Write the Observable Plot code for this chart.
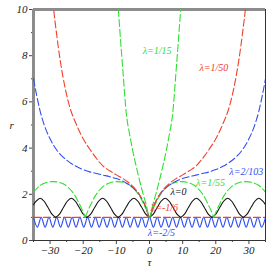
<!DOCTYPE html>
<html><head><meta charset="utf-8">
<script src="https://cdn.jsdelivr.net/npm/d3@7"></script>
<script src="https://cdn.jsdelivr.net/npm/@observablehq/plot@0.6"></script>
<style>body{margin:0;background:#fff;} svg{display:block} svg text{font-family:"Liberation Serif",serif;font-style:italic}</style>
</head><body><div id="chart"></div>
<script>
// λ = 1/15 (green dashed)
const g15Tau = [-10,-9.4,-9,-8,-7,-6,-5,-4,-3,-2,-1,0,1,2,3,4,5,6,7,8,9,9.4,10];
const g15R   = [11.3,10,9.2,7.3,5.5,4.6,3.85,3.2,2.6,2.05,1.55,1,1.55,2.05,2.6,3.2,3.85,4.6,5.5,7.3,9.2,10,11.3];
// λ = 1/50 (red dashed)
const r50Tau = [-29.5,-29,-28,-27,-26,-25,-24,-22,-20,-18,-16,-14,-12,-10,-8,-6,-4,-3,-2,-1,0,1,2,3,4,6,8,10,12,14,16,18,20,22,24,25,26,27,28,29,29.5];
const r50R   = [10.8,10.1,8.9,7.85,7.0,6.3,5.75,5.0,4.4,3.95,3.55,3.22,3.02,2.84,2.68,2.47,2.18,1.98,1.72,1.4,1,1.4,1.72,1.98,2.18,2.47,2.68,2.84,3.02,3.22,3.55,3.95,4.4,5.0,5.75,6.3,7.0,7.85,8.9,10.1,10.8];
// λ = 2/103 (blue dashed)
const b103Tau = [-35,-34,-33,-32,-30,-28,-26,-24,-22,-20,-18,-16,-14,-12,-10,-8,-6,-4,-3,-2,-1,0,1,2,3,4,6,8,10,12,14,16,18,20,22,24,26,28,30,32,33,34,35];
const b103R   = [7.0,6.25,5.6,5.1,4.4,3.92,3.6,3.37,3.2,3.07,2.97,2.9,2.83,2.76,2.68,2.57,2.4,2.15,1.97,1.72,1.4,1,1.4,1.72,1.97,2.15,2.4,2.57,2.68,2.76,2.83,2.9,2.97,3.07,3.2,3.37,3.6,3.92,4.4,5.1,5.6,6.25,7.0];
// λ = 1/55 (green dashed, arches)
const g55Tau = [-35,-34.8,-33.8,-32.8,-31.3,-29.1,-26.9,-25.4,-24.4,-23.4,-22.4,-21.4,-20.4,-19.4,-18.4,-17.4,-16.4,-15.4,-14.4,-13.4,-11.9,-9.7,-7.5,-6,-5,-4,-3,-2,-1,0,1,2,3,4,5,6,7.5,9.7,11.9,13.4,14.4,15.4,16.4,17.4,18.4,19.4,20.4,21.4,22.4,23.4,24.4,25.4,26.9,29.1,31.3,32.8,33.8,34.8,35];
const g55R   = [2.09,2.13,2.28,2.4,2.5,2.55,2.5,2.4,2.28,2.13,1.92,1.65,1.35,1,1.35,1.65,1.92,2.13,2.28,2.4,2.5,2.55,2.5,2.4,2.28,2.13,1.92,1.65,1.35,1,1.35,1.65,1.92,2.13,2.28,2.4,2.5,2.55,2.5,2.4,2.28,2.13,1.92,1.65,1.35,1,1.35,1.65,1.92,2.13,2.28,2.4,2.5,2.55,2.5,2.4,2.28,2.13,2.09];
// λ = 0 (black solid, arches)
const k0Tau = [-35,-34.2,-33,-31.8,-30.7,-29.5,-28.3,-27.1,-25.9,-24.8,-23.58,-22.37,-21.27,-20.07,-18.87,-17.67,-16.47,-15.37,-14.15,-12.93,-11.83,-10.63,-9.43,-8.23,-7.03,-5.93,-4.72,-3.5,-2.4,-1.2,0,1.2,2.4,3.5,4.72,5.93,7.03,8.23,9.43,10.63,11.83,12.93,14.15,15.37,16.47,17.67,18.87,20.07,21.27,22.37,23.58,24.8,25.9,27.1,28.3,29.5,30.7,31.8,33,34.2,35];
const k0R   = [1.55,1.7,1.83,1.7,1.45,1.15,1,1.15,1.45,1.7,1.83,1.7,1.45,1.15,1,1.15,1.45,1.7,1.83,1.7,1.45,1.15,1,1.15,1.45,1.7,1.83,1.7,1.45,1.15,1,1.15,1.45,1.7,1.83,1.7,1.45,1.15,1,1.15,1.45,1.7,1.83,1.7,1.45,1.15,1,1.15,1.45,1.7,1.83,1.7,1.45,1.15,1,1.15,1.45,1.7,1.83,1.7,1.55];
// λ = -1/6 (red dashed, constant)
const r6Tau = [-35, 35];
const r6R   = [1, 1];
// λ = -2/5 (blue solid, fast oscillation)
const b25Tau = [-35,-33.83,-32.67,-31.5,-30.33,-29.17,-28,-26.83,-25.67,-24.5,-23.33,-22.17,-21,-19.83,-18.67,-17.5,-16.33,-15.17,-14,-12.83,-11.67,-10.5,-9.33,-8.17,-7,-5.83,-4.67,-3.5,-2.33,-1.17,0,1.17,2.33,3.5,4.67,5.83,7,8.17,9.33,10.5,11.67,12.83,14,15.17,16.33,17.5,18.67,19.83,21,22.17,23.33,24.5,25.67,26.83,28,29.17,30.33,31.5,32.67,33.83,35];
const b25R   = [1,0.58,1,0.58,1,0.58,1,0.58,1,0.58,1,0.58,1,0.58,1,0.58,1,0.58,1,0.58,1,0.58,1,0.58,1,0.58,1,0.58,1,0.58,1,0.58,1,0.58,1,0.58,1,0.58,1,0.58,1,0.58,1,0.58,1,0.58,1,0.58,1,0.58,1,0.58,1,0.58,1,0.58,1,0.58,1,0.58,1];

const xTicks = [-30,-20,-10,0,10,20,30];
const xMinor = [-35,-25,-15,-5,5,15,25,35];
const yTicks = [0,2,4,6,8,10];
const yMinor = [1,3,5,7,9];

const labelText = ["λ=1/15","λ=1/50","λ=2/103","λ=1/55","λ=0","λ=-1/6","λ=-2/5"];
const labelTau  = [2.3, 19.4, 29.2, 18.4, 8.75, 4.5, 3.6];
const labelR    = [8.2, 7.47, 2.99, 2.48, 2.12, 1.43, 0.34];

function rows(ts, rs) { return ts.map((t, i) => ({t, r: rs[i], seg: 0})); }
// split at cusps (r = 1) so the minima stay pointed
function cusped(ts, rs) {
  const out = []; let seg = 0;
  ts.forEach((t, i) => {
    out.push({t, r: rs[i], seg});
    if (rs[i] === 1 && i > 0 && i < ts.length - 1) { seg++; out.push({t, r: rs[i], seg}); }
  });
  return out;
}

const RED = "#f2402a", GREEN = "#2ee02e", BLUE = "#3050f0";
const colors = [GREEN, RED, BLUE, GREEN, "#111", RED, BLUE];
const labels = labelText.map((s, i) => ({s, t: labelTau[i], r: labelR[i], c: colors[i]}));

const FONT = "'Liberation Serif', 'Times New Roman', serif";
const dash = {x: "t", y: "r", z: "seg", strokeWidth: 1.1, strokeDasharray: "7,3", curve: "monotone-x", clip: true};
const solid = {x: "t", y: "r", z: "seg", strokeWidth: 1.1, curve: "monotone-x", clip: true};
const txt = {fontFamily: FONT, fontStyle: "italic"};

const chart = Plot.plot({
  width: 270, height: 270,
  marginLeft: 33, marginRight: 5, marginTop: 9, marginBottom: 30,
  x: {domain: [-35, 35]},
  y: {domain: [0, 10]},
  style: {fontFamily: FONT, fontStyle: "italic", fontSize: "11px", background: "white", color: "#222"},
  marks: [
    Plot.axisX(xTicks, {...txt, tickSize: 4, tickPadding: 2, label: null, stroke: "#444", fontSize: 11}),
    Plot.axisX(xMinor, {tickSize: 2, tickFormat: () => "", label: null, stroke: "#444"}),
    Plot.axisY(yTicks, {...txt, tickSize: 4, tickPadding: 2, label: null, stroke: "#444", fontSize: 11}),
    Plot.axisY(yMinor, {tickSize: 2, tickFormat: () => "", label: null, stroke: "#444"}),
    Plot.ruleX([35], {stroke: "#333", strokeWidth: 1}),
    Plot.ruleY([0], {stroke: "#333", strokeWidth: 1}),
    Plot.ruleX([-35], {stroke: "#8c8c8c", strokeWidth: 3}),
    Plot.ruleY([10], {stroke: "#8c8c8c", strokeWidth: 3}),
    Plot.line(rows(b25Tau, b25R), {...solid, stroke: BLUE}),
    Plot.line(rows(r6Tau, r6R), {...dash, stroke: RED}),
    Plot.line(cusped(k0Tau, k0R), {...solid, stroke: "#111"}),
    Plot.line(cusped(g55Tau, g55R), {...dash, stroke: GREEN}),
    Plot.line(rows(b103Tau, b103R), {...dash, stroke: BLUE}),
    Plot.line(rows(r50Tau, r50R), {...dash, stroke: RED}),
    Plot.line(rows(g15Tau, g15R), {...dash, stroke: GREEN}),
    Plot.text(labels, {...txt, x: "t", y: "r", text: "s", fill: "c", fontSize: 10}),
    Plot.text(["r"], {...txt, frameAnchor: "left", dx: -24, fontSize: 11}),
    Plot.text(["τ"], {...txt, frameAnchor: "bottom", dy: 25, fontSize: 11})
  ]
});
document.getElementById("chart").appendChild(chart);
</script>
</body></html>
